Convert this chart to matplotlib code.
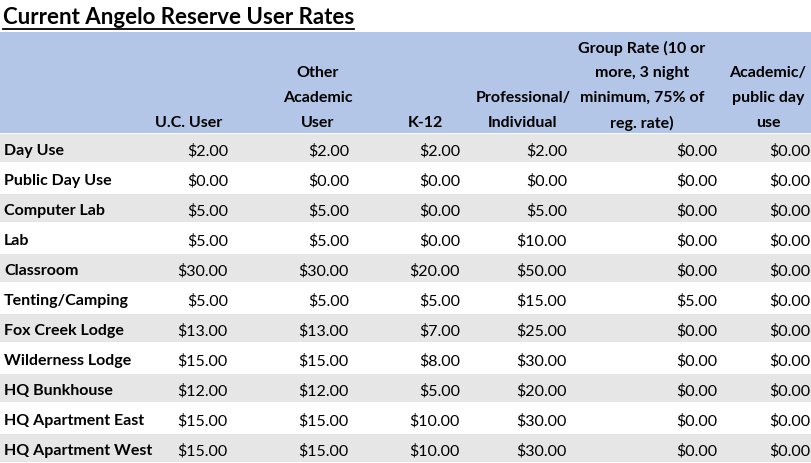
import matplotlib

matplotlib.use("Agg")
import matplotlib.pyplot as plt
from matplotlib.patches import Rectangle

TITLE = "Current Angelo Reserve User Rates"
COLUMNS = [
    "U.C. User",
    "Other\nAcademic\nUser",
    "K-12",
    "Professional/\nIndividual",
    "Group Rate (10 or\nmore, 3 night\nminimum, 75% of\nreg. rate)",
    "Academic/\npublic day\nuse",
]
ROWS = [
    "Day Use", "Public Day Use", "Computer Lab", "Lab", "Classroom",
    "Tenting/Camping", "Fox Creek Lodge", "Wilderness Lodge", "HQ Bunkhouse",
    "HQ Apartment East", "HQ Apartment West",
]
UC_USER = [2, 0, 5, 5, 30, 5, 13, 15, 12, 15, 15]
OTHER_ACADEMIC = [2, 0, 5, 5, 30, 5, 13, 15, 12, 15, 15]
K12 = [2, 0, 0, 0, 20, 5, 7, 8, 5, 10, 10]
PROFESSIONAL = [2, 0, 5, 10, 50, 15, 25, 30, 20, 30, 30]
GROUP = [0, 0, 0, 0, 0, 5, 0, 0, 0, 0, 0]
ACADEMIC_DAY = [0, 0, 0, 0, 0, 0, 0, 0, 0, 0, 0]

W, H = 812, 463
col_right = [228, 349, 460, 567, 717, 810]
col_center = [189, 318, 425, 523, 642, 768]
header_top, header_bottom = 32, 133
row_h = (H - header_bottom) / len(ROWS)

plt.rcParams["font.family"] = ["Lato", "DejaVu Sans"]
fig = plt.figure(figsize=(W / 100, H / 100), dpi=100)
ax = fig.add_axes([0, 0, 1, 1])
ax.set_xlim(0, W)
ax.set_ylim(H, 0)
ax.axis("off")

t = ax.text(3, 17, TITLE, fontsize=16, fontweight="bold", va="center", ha="left")
fig.canvas.draw()
bb = t.get_window_extent().transformed(ax.transData.inverted())
ax.plot([bb.x0, bb.x1], [29, 29], color="black", lw=1.3)

ax.add_patch(Rectangle((0, header_top), W, header_bottom - header_top, color="#B4C6E7", lw=0))
for name, cx in zip(COLUMNS, col_center):
    lines = name.split("\n")
    for k, line in enumerate(reversed(lines)):
        ax.text(cx, 123 - 25 * k, line, fontsize=11.5, fontweight="bold", ha="center", va="center")

series = [UC_USER, OTHER_ACADEMIC, K12, PROFESSIONAL, GROUP, ACADEMIC_DAY]
for i, name in enumerate(ROWS):
    y0 = header_bottom + i * row_h
    yc = y0 + row_h / 2 + 3
    if i % 2 == 0:
        ax.add_patch(Rectangle((0, y0 + 1), W, row_h - 2, color="#E7E6E6", lw=0))
    ax.text(4, yc, name, fontsize=11.5, fontweight="bold", ha="left", va="center")
    for vals, xr in zip(series, col_right):
        ax.text(xr, yc, f"${vals[i]:.2f}", fontsize=11.5, ha="right", va="center")

fig.savefig("out.png", dpi=100)
